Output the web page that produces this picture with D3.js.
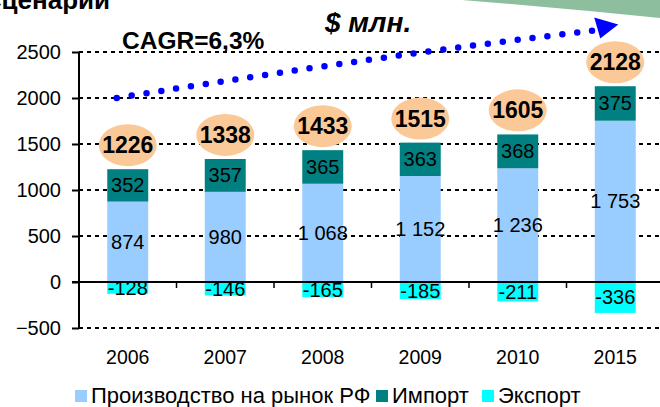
<!DOCTYPE html>
<html><head><meta charset="utf-8">
<script src="https://cdn.jsdelivr.net/npm/d3@7"></script>
<style>body{margin:0;background:#fff;}svg{display:block;font-family:Arial,"Liberation Sans",sans-serif;}</style>
</head><body>
<svg id="c" width="660" height="407"></svg>
<script>
const years = ["2006","2007","2008","2009","2010","2015"];
const production = [874, 980, 1068, 1152, 1236, 1753];
const imports = [352, 357, 365, 363, 368, 375];
const exports = [-128, -146, -165, -185, -211, -336];
const totals = [1226, 1338, 1433, 1515, 1605, 2128];
const yTicks = [-500, 0, 500, 1000, 1500, 2000, 2500];
const prodLabels = ["874", "980", "1 068", "1 152", "1 236", "1 753"];
const seriesNames = ["Производство на рынок РФ", "Импорт", "Экспорт"];
const colors = ["#99CCFF", "#008080", "#00FFFF"];

const svg = d3.select("#c");
const x = d3.scaleBand().domain(years).range([79, 664]);
const y = d3.scaleLinear().domain([-500, 2500]).range([328, 52]);
const bw = x.bandwidth() * 0.42;
const cx = d => x(d) + x.bandwidth() / 2;

// green decorative shape top right
svg.append("path").attr("d", "M440,0 L660,0 L660,18 Q560,8 462,0 Z").attr("fill", "#8DBF9E");

// cropped title
svg.append("text").attr("x", 110).attr("y", 9).attr("text-anchor", "end")
  .attr("font-size", 26).attr("font-weight", "bold").text("Сценарии");

// gridlines
svg.append("g").selectAll("line").data(yTicks.filter(t => t !== 0)).join("line")
  .attr("x1", 79).attr("x2", 660).attr("y1", d => y(d)).attr("y2", d => y(d))
  .attr("stroke", "#000").attr("stroke-width", 2).attr("stroke-dasharray", "4,4");

// y axis
const yAxis = d3.axisLeft(y).tickValues(yTicks).tickSize(7).tickPadding(11).tickFormat(d3.format("d"));
const gy = svg.append("g").attr("transform", "translate(79,0)").call(yAxis);
gy.select(".domain").attr("stroke-width", 2).attr("d", `M0,${y(-500)}V${y(2500)}`);
gy.selectAll(".tick line").attr("stroke-width", 2);
gy.selectAll("text").attr("font-size", 20).attr("font-family", "Arial,'Liberation Sans',sans-serif").attr("fill", "#000");

// bars
const g = svg.append("g");
g.selectAll(".p").data(years).join("rect")
  .attr("x", d => cx(d) - bw / 2).attr("width", bw)
  .attr("y", (d, i) => y(production[i])).attr("height", (d, i) => y(0) - y(production[i]))
  .attr("fill", colors[0]);
g.selectAll(".im").data(years).join("rect")
  .attr("x", d => cx(d) - bw / 2).attr("width", bw)
  .attr("y", (d, i) => y(production[i] + imports[i])).attr("height", (d, i) => y(production[i]) - y(production[i] + imports[i]))
  .attr("fill", colors[1]);
g.selectAll(".ex").data(years).join("rect")
  .attr("x", d => cx(d) - bw / 2).attr("width", bw)
  .attr("y", y(0)).attr("height", (d, i) => y(exports[i]) - y(0))
  .attr("fill", colors[2]);

// zero line + x ticks
svg.append("line").attr("x1", 72).attr("x2", 660).attr("y1", y(0)).attr("y2", y(0)).attr("stroke", "#000").attr("stroke-width", 2);
svg.append("g").selectAll("line").data(years.slice(1)).join("line")
  .attr("x1", d => x(d)).attr("x2", d => x(d)).attr("y1", y(0)).attr("y2", y(0) + 6)
  .attr("stroke", "#000").attr("stroke-width", 1.5);

// value labels
const lab = svg.append("g").attr("font-size", 20).attr("text-anchor", "middle").attr("fill", "#000");
lab.selectAll(".lp").data(years).join("text")
  .attr("x", cx).attr("y", (d, i) => (y(0) + y(production[i])) / 2 + 7).text((d, i) => prodLabels[i]);
lab.selectAll(".li").data(years).join("text")
  .attr("x", cx).attr("y", (d, i) => (y(production[i]) + y(production[i] + imports[i])) / 2 + 7).text((d, i) => imports[i]);
lab.selectAll(".le").data(years).join("text")
  .attr("x", cx).attr("y", (d, i) => Math.max((y(0) + y(exports[i])) / 2 + 7, y(0) + 11)).text((d, i) => exports[i]);

// total ellipses
const tg = svg.append("g");
tg.selectAll("ellipse").data(years).join("ellipse")
  .attr("cx", cx).attr("cy", (d, i) => y(totals[i]) - 24)
  .attr("rx", 29).attr("ry", 21).attr("fill", "#FBC897");
tg.selectAll("text").data(years).join("text")
  .attr("x", cx).attr("y", (d, i) => y(totals[i]) - 24 + 8)
  .attr("text-anchor", "middle").attr("font-size", 23).attr("font-weight", "bold").text((d, i) => totals[i]);

// x labels
svg.append("g").selectAll("text").data(years).join("text")
  .attr("x", cx).attr("y", 364).attr("text-anchor", "middle").attr("font-size", 19.5).text(d => d);

// CAGR dotted arrow
const x0 = cx("2006") - 11, y0 = y(2000);
const x1 = cx("2015") - 20, y1 = y(2735);
svg.append("path").attr("d", `M${x0},${y0} Q${(x0 + x1) / 2 + 20},${(y0 + y1) / 2 - 8} ${x1},${y1}`)
  .attr("fill", "none").attr("stroke", "#0000FF").attr("stroke-width", 6.5)
  .attr("stroke-linecap", "round").attr("stroke-dasharray", "0,15");
svg.append("path").attr("d", `M${x1 - 1},${y1 - 13} L${x1 + 23},${y1 - 6} L${x1 + 5},${y1 + 8} Z`).attr("fill", "#0000FF");

svg.append("text").attr("x", 122).attr("y", 49).attr("font-size", 24.5).attr("font-weight", "bold").text("CAGR=6,3%");
svg.append("text").attr("x", 325).attr("y", 32).attr("font-size", 28).attr("font-weight", "bold").attr("font-style", "italic").text("$ млн.");

// legend
const lg = svg.append("g");
const lxs = [75, 376, 482];
seriesNames.forEach((n, i) => {
  lg.append("rect").attr("x", lxs[i]).attr("y", 390).attr("width", 12).attr("height", 12).attr("fill", colors[i]);
  lg.append("text").attr("x", lxs[i] + 16).attr("y", 403).attr("font-size", 22).text(n);
});
</script>
</body></html>
